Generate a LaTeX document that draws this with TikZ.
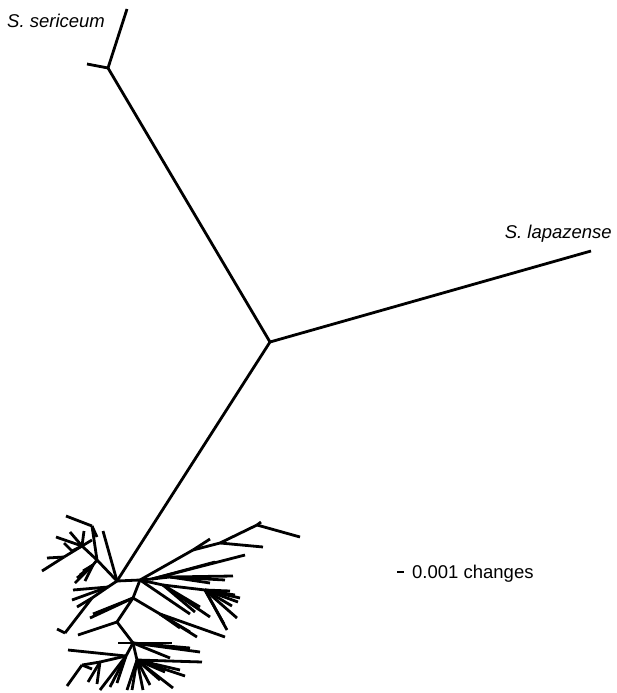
\documentclass[tikz,border=0pt]{standalone}
\usepackage{fontspec}
\setmainfont{Liberation Sans}
\newcommand\br[3]{\coordinate (#2) at (#3);\draw[edge] (#1) -- (#2);}
\tikzset{edge/.style={line width=2.8pt,black},
  lbl/.style={inner sep=0pt,font=\fontsize{18.5}{22}\selectfont}}
\begin{document}
\begin{tikzpicture}[x=1pt,y=-1pt]
\useasboundingbox (0,0) rectangle (616,693);
% backbone
\coordinate (C) at (270,342);
\br{C}{SL}{591,251}
\br{C}{SS}{108,68}
\br{SS}{SSt}{127,9}
\br{SS}{SSl}{87,64}
\br{C}{R}{117,581}
\node[lbl,anchor=base west] (lss) at (7,28) {\itshape S. sericeum};
\node[lbl,anchor=base east] (lsl) at (612,238) {\itshape S. lapazense};
% upper-left clade
\br{R}{ta}{103,531}
\br{R}{UL}{97,560}
\br{UL}{U1}{92,526}
\br{U1}{tb}{66,516}
\br{U1}{tc}{97,537}
\br{UL}{U2}{82,546}
\br{U2}{td}{56,537}
\br{U2}{te}{70,532}
\br{U2}{tf}{84,531}
\br{U2}{tg}{92,540}
\br{U2}{U3}{64,557}
\br{U3}{th}{42,571}
\br{U3}{ti}{47,558}
\br{U2}{U4}{72,551}
\br{U4}{tj}{64,543}
\br{UL}{U5}{93,565}
\br{U5}{tk}{75,583}
\br{U5}{tl}{77,578}
\br{U5}{tm}{80,575}
\br{U5}{tn}{85,581}
\br{U5}{to}{83,571}
% lower-left from R
\br{R}{L1}{108,587}
\br{L1}{tp}{73,590}
\br{L1}{tq}{72,600}
\br{L1}{L2}{92,598}
\br{L2}{tr}{77,607}
\br{L2}{Lt}{65,633}
\br{Lt}{ts}{57,629}
% second node
\br{R}{N2}{140,580}
\br{N2}{M1}{133,598}
\br{M1}{N3}{117,622}
\br{M1}{tt}{90,618}
\br{M1}{tu}{93,614}
\br{N3}{tv}{78,635}
\br{N3}{N4}{133,643}
\br{M1}{M2}{160,614}
\br{M2}{tw}{225,637}
\br{M2}{tx}{197,637}
\br{M2}{ty}{190,632}
\br{M2}{tz}{180,628}
\br{N2}{sa}{190,614}
% upper-right from N2
\br{N2}{A1}{193,550}
\br{A1}{sb}{210,539}
\br{A1}{A2}{220,543}
\br{A2}{sc}{263,547}
\br{A2}{A3}{257,525}
\br{A3}{sd}{300,537}
\br{A3}{se}{261,522}
\br{N2}{B1}{152,579}
\br{B1}{sf}{215,562}
\br{B1}{sg}{245,555}
\br{B1}{B2}{170,577}
\br{B2}{sh}{233,576}
\br{B2}{si}{210,583}
\br{B2}{sj}{225,580}
\br{N2}{D1}{163,585}
\br{D1}{sk}{210,617}
\br{D1}{sl}{195,612}
\br{D1}{sm}{200,607}
\br{D1}{D2}{205,590}
\br{D2}{sn}{227,630}
\br{D2}{so}{237,618}
\br{D2}{sp}{235,595}
\br{D2}{sq}{230,591}
\br{D2}{sr}{224,624}
\br{D2}{ss}{238,602}
\br{D2}{st}{232,606}
\br{D2}{su}{240,598}
% lower clade
\br{N4}{ua}{118,643}
\br{N4}{ub}{172,643}
\br{N4}{K1}{126,656}
\br{K1}{uc}{68,650}
\br{K1}{K2}{100,662}
\br{K2}{K3}{82,665}
\br{K3}{ud}{67,686}
\br{K3}{ue}{92,669}
\br{K2}{uf}{88,682}
\br{K2}{ug}{97,684}
\br{K1}{uh}{100,690}
\br{K1}{ui}{110,687}
\br{K1}{uj}{117,683}
\br{N4}{K4}{137,660}
\br{K4}{uk}{127,690}
\br{K4}{ul}{132,690}
\br{K4}{um}{143,690}
\br{K4}{un}{150,685}
\br{K4}{uo}{173,688}
\br{K4}{up}{160,680}
\br{K4}{uq}{180,670}
\br{K4}{ur}{202,662}
\br{K4}{us}{165,672}
\br{K4}{uv}{185,676}
\br{N4}{ut}{200,652}
\br{N4}{uu}{190,648}
\br{N4}{uw}{170,658}
% scale bar
\coordinate (sb1) at (397,572);
\coordinate (sb2) at (404,572);
\draw[edge] (sb1) -- (sb2);
\node[lbl,anchor=base west] (lsc) at (412,578) {0.001 changes};
\end{tikzpicture}
\end{document}
